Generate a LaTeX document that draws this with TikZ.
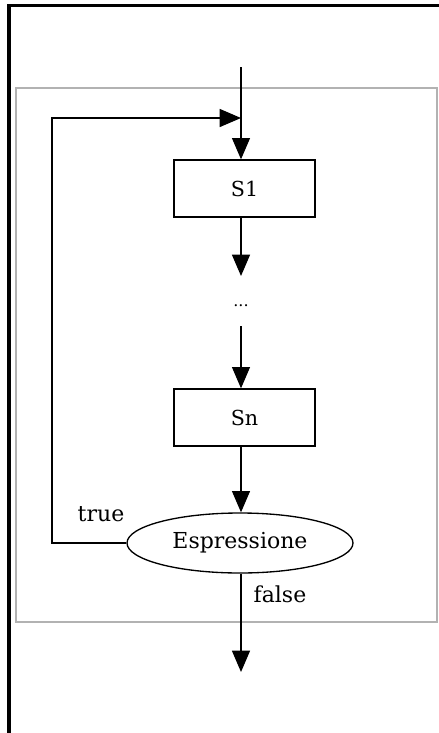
\documentclass[tikz,border=0pt]{standalone}
\usepackage{fontspec}
\setmainfont{DejaVu Serif}
\usetikzlibrary{arrows.meta,shapes.geometric}

\begin{document}
\begin{tikzpicture}[x=0.75pt,y=-0.75pt,
  flow/.style={line width=1pt,-{Triangle[length=16pt,width=13.5pt]}},
  stepbox/.style={draw,line width=1pt,minimum width=105.75pt,minimum height=42.75pt,font=\fontsize{15.5}{18}\selectfont},
  cond/.style={draw,ellipse,line width=1pt,minimum width=169.5pt,minimum height=45pt,inner sep=0pt,font=\fontsize{16.5}{19}\selectfont},
  lbl/.style={font=\fontsize{16.5}{19}\selectfont}]
\useasboundingbox (0,0) rectangle (439,733);
% frame and loop area
\draw[line width=2.4pt] (9,733) -- (9,5.5) -- (439,5.5);
\draw[gray!60,line width=0.8pt] (16,88) rectangle (437,622);

\node[stepbox] (s1) at (244.5,188.5) {S1};
\node[font=\fontsize{12}{14}\selectfont] (dots) at (241,306) {...};
\node[stepbox] (sn) at (244.5,417.5) {Sn};
\node[cond] (expr) at (240,543) {Espressione};
\node[lbl] (true) at (101,514) {true};
\node[lbl] (false) at (280,594) {false};

\coordinate (top) at (241,67);
\coordinate (join) at (241,118);
\coordinate (afters1) at (241,276);
\coordinate (beforesn) at (241,326);
\coordinate (loopbl) at (52,543);
\coordinate (looptl) at (52,118);
\coordinate (exit) at (241,672);

\draw[flow] (top) -- (top |- s1.north);
\draw[flow] (top |- s1.south) -- (afters1);
\draw[flow] (beforesn) -- (top |- sn.north);
\draw[flow] (top |- sn.south) -- (expr.north -| top);
\draw[flow] (expr.south -| top) -- (exit);
\draw[flow] (expr.west) -- (loopbl) -- (looptl) -- (join);
\end{tikzpicture}
\end{document}
